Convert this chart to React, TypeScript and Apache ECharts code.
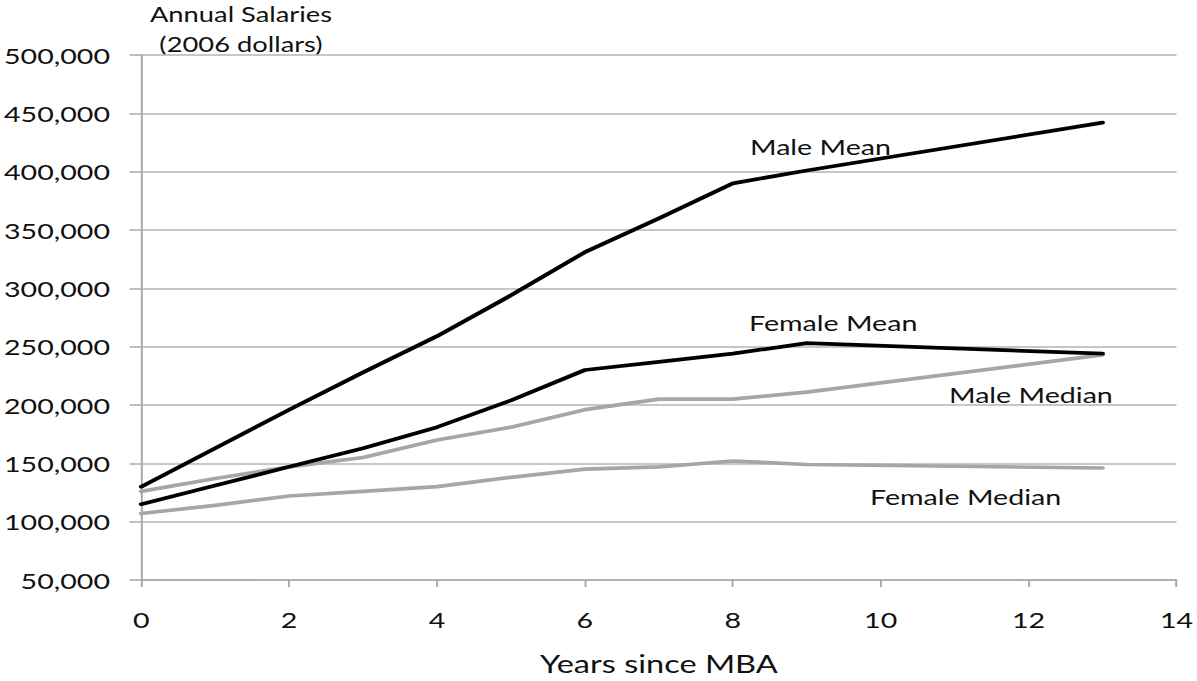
import React, { useEffect, useRef } from "react";
import * as echarts from "echarts";

const years = [0, 1, 2, 3, 4, 5, 6, 7, 8, 9, 13];
const maleMean = [130000, 163000, 196000, 228000, 259000, 294000, 331000, 360000, 390000, 401000, 442000];
const femaleMean = [115000, 131000, 147000, 163000, 181000, 204000, 230000, 237000, 244000, 253000, 244000];
const maleMedian = [126000, 137000, 147000, 155000, 170000, 181000, 196000, 205000, 205000, 211000, 243000];
const femaleMedian = [107000, 114000, 122000, 126000, 130000, 138000, 145000, 147000, 152000, 149000, 146000];
const seriesNames = ["Male Mean", "Female Mean", "Male Median", "Female Median"];
const yTitle = ["Annual Salaries", "(2006 dollars)"];
const xTitle = "Years since MBA";

const SCALE = 1.3011;
const INNER_W = 920;
const H = 681;
const FONT = "Lato, 'Open Sans', sans-serif";

function pairs(v: number[]) {
  return years.map((x, i) => [x, v[i]]);
}

export default function App() {
  const ref = useRef<HTMLDivElement>(null);
  useEffect(() => {
    if (!ref.current) return;
    const chart = echarts.init(ref.current, undefined, { renderer: "svg" });
    const lineCommon = (color: string) => ({
      type: "line" as const,
      showSymbol: false,
      symbol: "none",
      lineStyle: { color, width: 3.7, cap: "round", join: "round" },
      z: 3,
    });
    const label = (text: string, x: number, y: number) => ({
      type: "text",
      x: x / SCALE,
      y,
      style: {
        text,
        fill: "#111",
        font: `22px ${FONT}`,
        textAlign: "left",
        textVerticalAlign: "middle",
      },
    });
    chart.setOption({
      animation: false,
      backgroundColor: "#ffffff",
      grid: { left: 140 / SCALE, right: INNER_W - 1180 / SCALE, top: 55, bottom: H - 580 },
      xAxis: {
        type: "value",
        min: 0,
        max: 14,
        interval: 2,
        name: xTitle,
        nameLocation: "middle",
        nameGap: 71,
        nameTextStyle: { fontFamily: FONT, fontSize: 25, color: "#111" },
        axisLine: { show: true, lineStyle: { color: "#a8a8a8", width: 1.5 } },
        axisTick: { show: true, length: 7, lineStyle: { color: "#a8a8a8", width: 1.5 } },
        axisLabel: { fontFamily: FONT, fontSize: 22, color: "#111", margin: 28 },
        splitLine: { show: false },
      },
      yAxis: {
        type: "value",
        min: 50000,
        max: 500000,
        interval: 50000,
        axisLine: { show: true, lineStyle: { color: "#a8a8a8", width: 1.5 } },
        axisTick: { show: true, length: 9, lineStyle: { color: "#a8a8a8", width: 1.5 } },
        axisLabel: {
          fontFamily: FONT,
          fontSize: 22,
          color: "#111",
          margin: 24,
          formatter: (v: number) => v.toLocaleString("en-US"),
        },
        splitLine: { show: true, lineStyle: { color: "#b4b4b4", width: 1.5 } },
      },
      graphic: [
        {
          type: "text",
          x: 241 / SCALE,
          y: 29,
          style: {
            text: yTitle.join("\n"),
            fill: "#111",
            font: `21px ${FONT}`,
            textAlign: "center",
            textVerticalAlign: "middle",
            lineHeight: 30,
          },
        },
        label(seriesNames[0], 750, 146),
        label(seriesNames[1], 749, 322),
        label(seriesNames[2], 949, 394),
        label(seriesNames[3], 870, 496),
      ],
      series: [
        { ...lineCommon("#a6a6a6"), name: seriesNames[3], data: pairs(femaleMedian) },
        { ...lineCommon("#a6a6a6"), name: seriesNames[2], data: pairs(maleMedian) },
        { ...lineCommon("#000000"), name: seriesNames[1], data: pairs(femaleMean) },
        { ...lineCommon("#000000"), name: seriesNames[0], data: pairs(maleMean) },
      ],
    });
    return () => chart.dispose();
  }, []);
  return (
    <div
      style={{
        position: "absolute",
        left: 0,
        top: 0,
        width: 1197,
        height: H,
        overflow: "hidden",
        background: "#fff",
      }}
    >
      <div
        ref={ref}
        style={{
          width: INNER_W,
          height: H,
          transform: `scaleX(${SCALE})`,
          transformOrigin: "0 0",
        }}
      />
    </div>
  );
}
